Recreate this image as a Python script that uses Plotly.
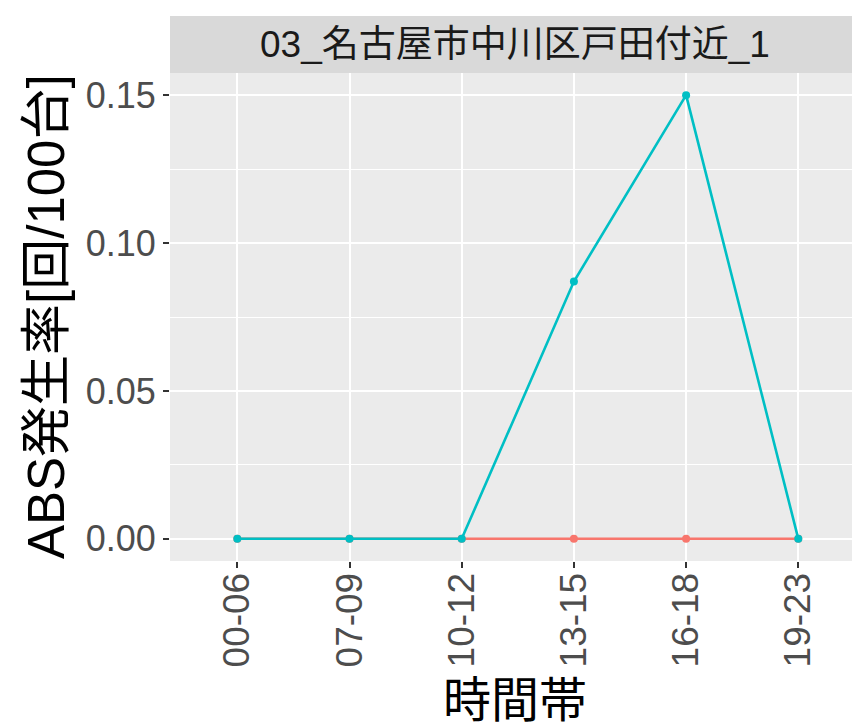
import plotly.graph_objects as go

time_bands = ['00-06', '07-09', '10-12', '13-15', '16-18', '19-23']
rate_red = [0, 0, 0, 0, 0, 0]
rate_cyan = [0, 0, 0, 0.087, 0.15, 0]
facet_label = '03_名古屋市中川区戸田付近_1'
y_ticks = [0, 0.05, 0.10, 0.15]
y_tick_text = ['0.00', '0.05', '0.10', '0.15']

font_fam = 'Liberation Sans, Arial, Noto Sans CJK JP, sans-serif'
W, H = 860, 724
off = 8  # page body margin
top, bottom, left, right = 73 - off, 561 - off, 170 - off, 860 - off
panel_h = bottom - top

fig = go.Figure()
fig.add_trace(go.Scatter(x=time_bands, y=rate_red, mode='lines+markers',
                         line=dict(color='#F8766D', width=2.6),
                         marker=dict(color='#F8766D', size=8), showlegend=False))
fig.add_trace(go.Scatter(x=time_bands, y=rate_cyan, mode='lines+markers',
                         line=dict(color='#00BFC4', width=2.6),
                         marker=dict(color='#00BFC4', size=8), showlegend=False))

# facet strip
fig.add_shape(type='rect', xref='paper', yref='paper', x0=0, x1=1,
              y0=1, y1=1 + 57 / panel_h, fillcolor='#D9D9D9', line_width=0, layer='below')
fig.add_annotation(text=facet_label, xref='paper', yref='paper', x=0.5,
                   y=1 + 29 / panel_h, yanchor='middle', showarrow=False,
                   font=dict(size=37, color='#1A1A1A', family=font_fam))

# axis titles
fig.add_annotation(text='時間帯', xref='paper', yref='paper', x=0.5,
                   y=-(700 - off - bottom) / panel_h, yanchor='middle', showarrow=False,
                   font=dict(size=48, color='black', family=font_fam))
fig.add_annotation(text='ABS発生率[回/100台]', xref='paper', yref='paper',
                   x=-(left - (46 - off)) / (right - left), xanchor='center', y=0.5,
                   yanchor='middle', textangle=-90, showarrow=False,
                   font=dict(size=51, color='black', family=font_fam))

fig.update_xaxes(type='category', range=[-0.6, 5.55], showgrid=True, gridcolor='white',
                 gridwidth=2, ticks='outside', ticklen=6, tickwidth=1.5, tickcolor='#333333',
                 tickangle=-90, tickfont=dict(size=37, color='#4D4D4D', family=font_fam),
                 ticklabelstandoff=-10, showline=False, zeroline=False, automargin=False)
fig.update_yaxes(range=[-0.0075, 0.1575], tickvals=y_ticks, ticktext=y_tick_text,
                 showgrid=True, gridcolor='white', gridwidth=2,
                 minor=dict(tickvals=[0.025, 0.075, 0.125], showgrid=True,
                            gridcolor='white', gridwidth=1, ticks=''),
                 ticks='outside', ticklen=6, tickwidth=1.5, tickcolor='#333333',
                 tickfont=dict(size=36, color='#4D4D4D', family=font_fam),
                 ticklabelstandoff=0, showline=False, zeroline=False, automargin=False)

fig.update_layout(width=W, height=H, plot_bgcolor='#EBEBEB', paper_bgcolor='white',
                  margin=dict(l=left, r=W - right, t=top, b=H - bottom, autoexpand=False),
                  font=dict(family=font_fam))

fig.write_html('out.html')
